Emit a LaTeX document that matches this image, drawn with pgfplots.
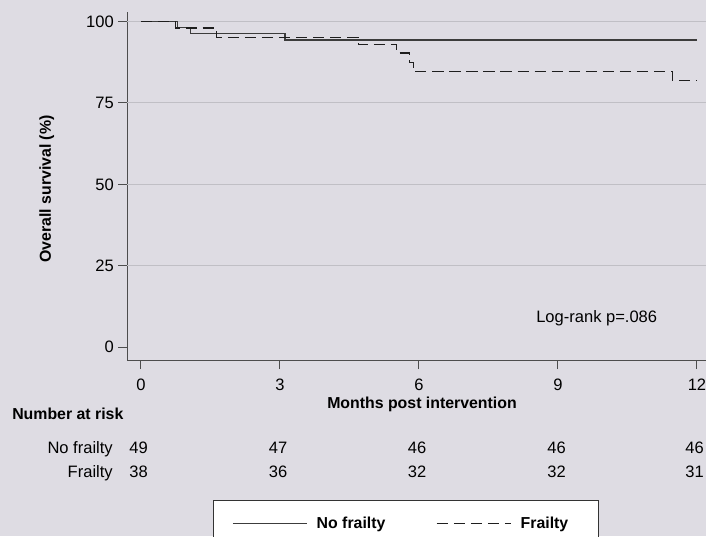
\documentclass[border=0pt]{standalone}
\usepackage{fontspec}
\setmainfont{Liberation Sans}
\usepackage{pgfplots}
\pgfplotsset{compat=1.18}
\definecolor{bg}{RGB}{222,220,227}
\definecolor{gridc}{RGB}{192,191,197}
\definecolor{axc}{RGB}{77,77,77}
\definecolor{solidc}{RGB}{60,60,60}
\definecolor{dashc}{RGB}{30,30,30}
\newcommand\reg{\fontsize{12.4}{14}\selectfont}
\newcommand\bld{\fontsize{11.9}{14}\selectfont\bfseries}
\begin{document}
\begin{tikzpicture}
\clip (0,0) rectangle (529.5pt,-402pt);
\fill[bg] (0,0) rectangle (529.5pt,-402pt);
\begin{axis}[
  at={(95.25pt,-270pt)}, anchor=south west,
  scale only axis, width=434.25pt, height=261.2pt,
  xmin=-0.302, xmax=12.195, ymin=-3.95, ymax=103,
  axis x line*=bottom, axis y line*=left,
  axis line style={axc, line width=0.75pt, -},
  xtick={0,3,6,9,12}, ytick={0,25,50,75,100},
  tick align=outside, major tick length=6.75pt,
  tick style={axc, line width=0.75pt},
  extra y ticks={25,50,75,100}, extra y tick labels={},
  extra y tick style={grid=major, major tick length=0pt},
  grid style={gridc, line width=0.75pt},
  /pgf/number format/assume math mode=true,
  tick label style={font=\reg},
  xticklabel style={anchor=base, inner sep=0pt, yshift=-15.75pt},
  yticklabel style={anchor=east, inner sep=0pt, xshift=-3pt},
  xlabel={Months post intervention},
  ylabel={Overall survival (\%)},
  xlabel style={at={(axis description cs:0.5095,-0.1378)}, anchor=base, font=\bld, inner sep=0pt},
  ylabel style={at={(axis description cs:-0.1387,0.491)}, anchor=center, font=\bld, inner sep=0pt},
  legend columns=2,
  legend style={at={(axis description cs:0.1485,-0.402)}, anchor=north west,
    fill=white, draw=black!80, line width=0.75pt, font=\bld,
    inner xsep=14pt, inner ysep=10pt, cells={anchor=west},
    /tikz/every even column/.append style={column sep=36pt}},
  legend image code/.code={\draw[#1] (0pt,0pt) -- (55.5pt,0pt); \path (60.5pt,0pt);},
  clip=false,
]
\addplot[const plot, solidc, line width=0.9pt] coordinates {
  (0,100) (0.78,98.2) (1.06,96.3) (3.11,94.3) (12,94.3)};
\addlegendentry{No frailty}
\addplot[const plot, dashc, line width=0.9pt, dash pattern=on 8.5pt off 4.3pt] coordinates {
  (0,100) (0.74,98.0) (1.63,95.2) (4.69,92.9) (5.52,90.3) (5.79,87.5) (5.88,84.6) (11.47,81.8) (12,81.8)};
\addlegendentry{Frailty\hspace*{7pt}}
\end{axis}
\begin{scope}[x=0.75pt,y=-0.75pt]
\node[anchor=base west, font=\bld, inner sep=0pt] at (12,419.5) {Number at risk};
\node[anchor=base east, font=\reg, inner sep=0pt] at (113,453) {No frailty};
\node[anchor=base east, font=\reg, inner sep=0pt] at (113,477) {Frailty};
\foreach \x/\a/\b in {138.5/49/38, 278/47/36, 417/46/32, 556.5/46/32, 694.5/46/31} {
  \node[anchor=base, font=\reg, inner sep=0pt] at (\x,453) {\a};
  \node[anchor=base, font=\reg, inner sep=0pt] at (\x,477) {\b};
}
\node[anchor=base west, font=\reg, inner sep=0pt] at (536,322.7) {Log-rank p=.086};
\end{scope}
\end{tikzpicture}
\end{document}
